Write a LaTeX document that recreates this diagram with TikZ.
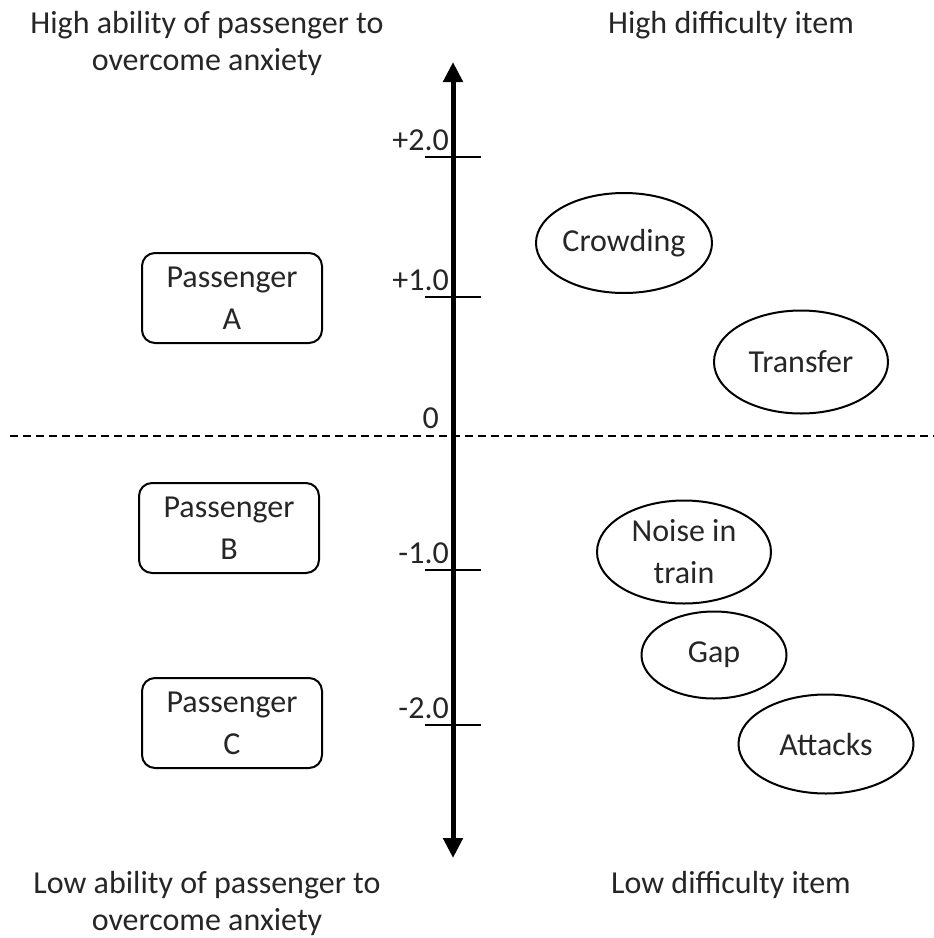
\documentclass[tikz,border=0pt]{standalone}
\usepackage{fontspec}
\setmainfont{Carlito}
\usetikzlibrary{arrows.meta,shapes.geometric}
\definecolor{txt}{HTML}{262626}
\tikzset{
  lbl/.style={text=txt,font=\fontsize{32}{37}\selectfont,inner sep=0pt,align=center},
  pbox/.style={draw=black,line width=2pt,rounded corners=13pt,minimum width=180pt,minimum height=90pt,inner sep=0pt,text=txt,font=\fontsize{32}{42}\selectfont,align=center},
  item/.style={draw=black,line width=2pt,ellipse,inner sep=0pt,text=txt,font=\fontsize{32}{42}\selectfont,align=center},
  tick/.style={line width=1.5pt,black},
  ticklbl/.style={text=txt,font=\fontsize{32}{36}\selectfont,inner sep=0pt,anchor=south east}
}
\begin{document}
\begin{tikzpicture}[x=1pt,y=-1pt]
\useasboundingbox (0,0) rectangle (934,938);
% dashed zero line
\coordinate (dl) at (10,436);
\coordinate (dr) at (934,436);
\draw[line width=1.5pt,dash pattern=on 8pt off 5pt] (dl) -- (dr);
% ticks
\foreach \y/\n in {157/a,297/b,570/d,725/e}{
  \coordinate (t\n l) at (425,\y);
  \coordinate (t\n r) at (481,\y);
  \draw[tick] (t\n l) -- (t\n r);
}
% axis
\coordinate (top) at (453,62);
\coordinate (bot) at (453,858);
\draw[line width=5pt,{Triangle[width=19pt,length=20pt]}-{Triangle[width=19pt,length=20pt]}] (bot) -- (top);
% tick labels
\node[ticklbl] (l2) at (449,151) {+2.0};
\node[ticklbl] (l1) at (449,291) {+1.0};
\node[ticklbl] (l0) at (439,429) {0};
\node[ticklbl] (lm1) at (449,564) {-1.0};
\node[ticklbl] (lm2) at (449,719) {-2.0};
% corner labels
\node[lbl] (hl) at (207,43) {High ability of passenger to\\overcome anxiety};
\node[lbl] (hr) at (731,25) {High difficulty item};
\node[lbl] (ll) at (207,903) {Low ability of passenger to\\overcome anxiety};
\node[lbl] (lr) at (731,885) {Low difficulty item};
% passenger boxes
\node[pbox] (pa) at (232,298) {Passenger\\A};
\node[pbox] (pb) at (229,528) {Passenger\\B};
\node[pbox] (pc) at (232,723) {Passenger\\C};
% items
\node[item,minimum width=176pt,minimum height=100pt] (crowd) at (624,243) {Crowding};
\node[item,minimum width=174pt,minimum height=103pt] (trans) at (801,362) {Transfer};
\node[item,minimum width=174pt,minimum height=103pt] (noise) at (684,552) {Noise in\\train};
\node[item,minimum width=145pt,minimum height=87pt] (gap) at (714,655) {Gap};
\node[item,minimum width=175pt,minimum height=99pt] (att) at (826,744) {Attacks};
\end{tikzpicture}
\end{document}
